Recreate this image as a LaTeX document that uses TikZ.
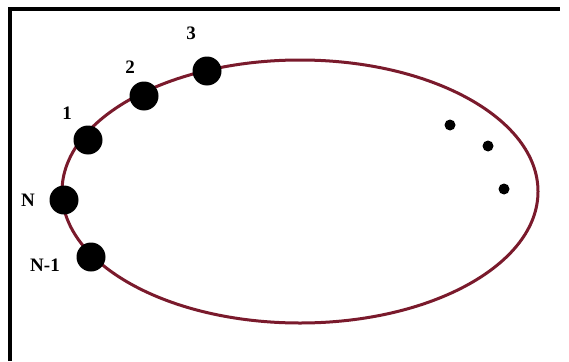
\documentclass[tikz,border=0pt]{standalone}
\usepackage{fontspec}
\setmainfont{Liberation Serif}
\definecolor{orbit}{HTML}{7A1A2C}
\begin{document}
\begin{tikzpicture}[x=1pt,y=-1pt,
  big/.style={circle,fill=black,minimum size=29pt,inner sep=0pt},
  small/.style={circle,fill=black,minimum size=11pt,inner sep=0pt},
  lbl/.style={font=\fontsize{19}{19}\selectfont\bfseries,inner sep=0pt}]
\useasboundingbox[fill=white] (0,0) rectangle (569,361);
\draw[line width=4pt,black] (9.5,361) -- (9.5,9.5) -- (560,9.5);
\draw[orbit,line width=3pt] (300,191.5) ellipse [x radius=238, y radius=131.5];
\node[big] (d3) at (207,71) {};
\node[big] (d2) at (144,96) {};
\node[big] (d1) at (88,140) {};
\node[big] (dN) at (64,200) {};
\node[big] (dN1) at (91,257) {};
\node[small] (s1) at (450,125) {};
\node[small] (s2) at (488,146) {};
\node[small] (s3) at (504,189) {};
\node[lbl] (l3) at (191,33) {3};
\node[lbl] (l2) at (130,67) {2};
\node[lbl] (l1) at (67,113) {1};
\node[lbl] (lN) at (28,200) {N};
\node[lbl] (lN1) at (45,265) {N-1};
\end{tikzpicture}
\end{document}
